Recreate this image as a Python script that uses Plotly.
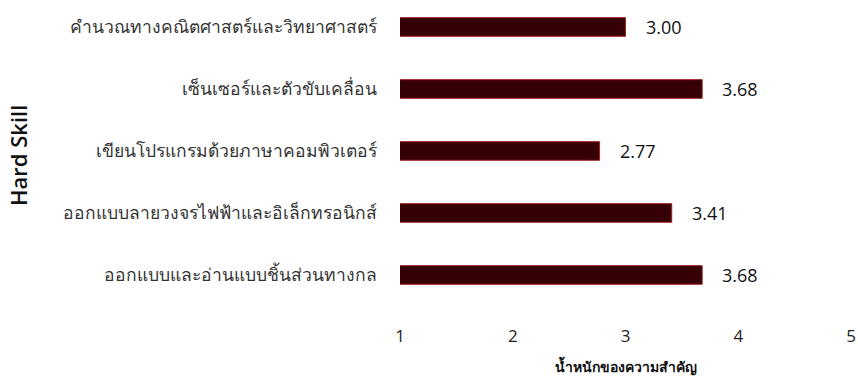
import plotly.graph_objects as go

categories = [
    "คำนวณทางคณิตศาสตร์และวิทยาศาสตร์",
    "เซ็นเซอร์และตัวขับเคลื่อน",
    "เขียนโปรแกรมด้วยภาษาคอมพิวเตอร์",
    "ออกแบบลายวงจรไฟฟ้าและอิเล็กทรอนิกส์",
    "ออกแบบและอ่านแบบชิ้นส่วนทางกล",
]
values = [3.00, 3.68, 2.77, 3.41, 3.68]
x_ticks = [1, 2, 3, 4, 5]
x_title = "น้ำหนักของความสำคัญ"
y_title = "Hard Skill"

fig = go.Figure()
fig.add_trace(go.Bar(
    y=categories,
    x=values,
    orientation="h",
    width=0.3,
    marker=dict(color="#360007", line=dict(color="#a31d1d", width=1)),
    hoverinfo="x+y",
))

for c, v in zip(categories, values):
    fig.add_annotation(
        x=v, y=c, text=f"{v:.2f}", showarrow=False,
        xanchor="left", xshift=18,
        font=dict(family="Open Sans, Liberation Sans, sans-serif", size=18, color="#111"),
    )

fig.add_annotation(
    xref="paper", yref="paper", x=(18 - 400) / 451, y=1 - 156 / 310,
    text=y_title, textangle=-90, showarrow=False,
    xanchor="center", yanchor="middle",
    font=dict(family="Open Sans, Liberation Sans, sans-serif", size=22, color="#111", weight=600),
)

fig.update_layout(
    width=858, height=381,
    margin=dict(l=400, r=7, t=0, b=71),
    plot_bgcolor="white", paper_bgcolor="white",
    showlegend=False,
    xaxis=dict(
        range=[1, 5], tickvals=x_ticks, showgrid=False, zeroline=False,
        showline=False, ticks="", ticklabelstandoff=14,
        tickfont=dict(family="Open Sans, Liberation Sans, sans-serif", size=17, color="#222"),
        title=dict(text=x_title, standoff=16,
                   font=dict(family="Noto Sans, sans-serif", size=14, color="#111", weight="bold")),
    ),
    yaxis=dict(
        type="category", range=[4.565, -0.435], showgrid=False, zeroline=False,
        showline=False, ticks="", ticklabelstandoff=22,
        tickfont=dict(family="Liberation Sans, sans-serif", size=17.5, color="#333"),
    ),
)

fig.write_html("out.html")
